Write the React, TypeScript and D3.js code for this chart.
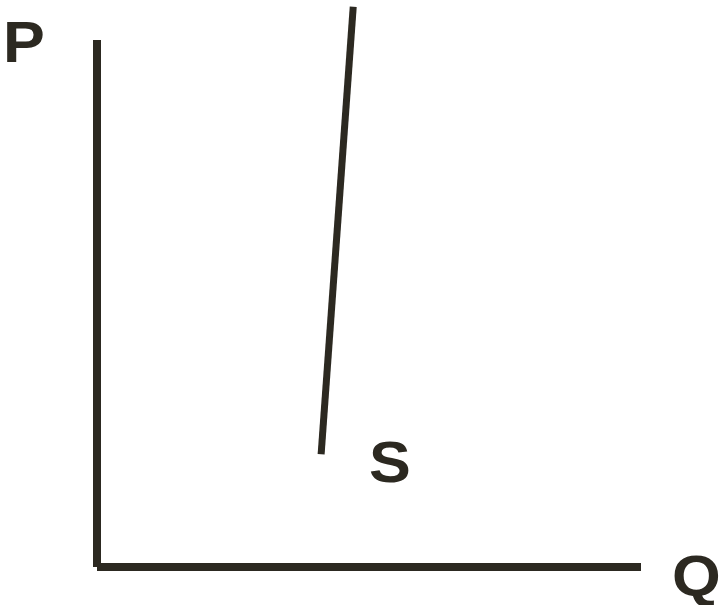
import React from "react";
import * as d3 from "d3";

const axisX: [number, number] = [0, 10];
const axisY: [number, number] = [0, 10];
const supplyQ = [4.12, 4.71];
const supplyP = [2.14, 10.63];
const labels = ["P", "Q", "S"];

const W = 721;
const H = 605;
const color = "#2c2921";

export default function App() {
  const x = d3.scaleLinear().domain(axisX).range([97, 641]);
  const y = d3.scaleLinear().domain(axisY).range([567, 40]);
  const pts: [number, number][] = supplyQ.map((q, i) => [q, supplyP[i]]);
  const line = d3
    .line<[number, number]>()
    .x((d) => x(d[0]))
    .y((d) => y(d[1]));
  const font = "'Liberation Sans', Arial, sans-serif";
  const label = (t: string, tx: number, ty: number) => (
    <text
      transform={`translate(${tx},${ty}) scale(1.08,1)`}
      fontFamily={font}
      fontWeight="bold"
      fontSize={58}
      fill={color}
    >
      {t}
    </text>
  );
  return (
    <svg
      width={W}
      height={H}
      style={{ position: "absolute", left: 0, top: 0, background: "#fff" }}
    >
      <line
        x1={x(0)}
        y1={y(10)}
        x2={x(0)}
        y2={y(0)}
        stroke={color}
        strokeWidth={8}
      />
      <line
        x1={x(0)}
        y1={y(0)}
        x2={x(10)}
        y2={y(0)}
        stroke={color}
        strokeWidth={8}
      />
      <path d={line(pts) || ""} stroke={color} strokeWidth={7} fill="none" />
      {label(labels[0], 3, 62)}
      {label(labels[1], 672, 596)}
      {label(labels[2], 369, 482)}
    </svg>
  );
}
